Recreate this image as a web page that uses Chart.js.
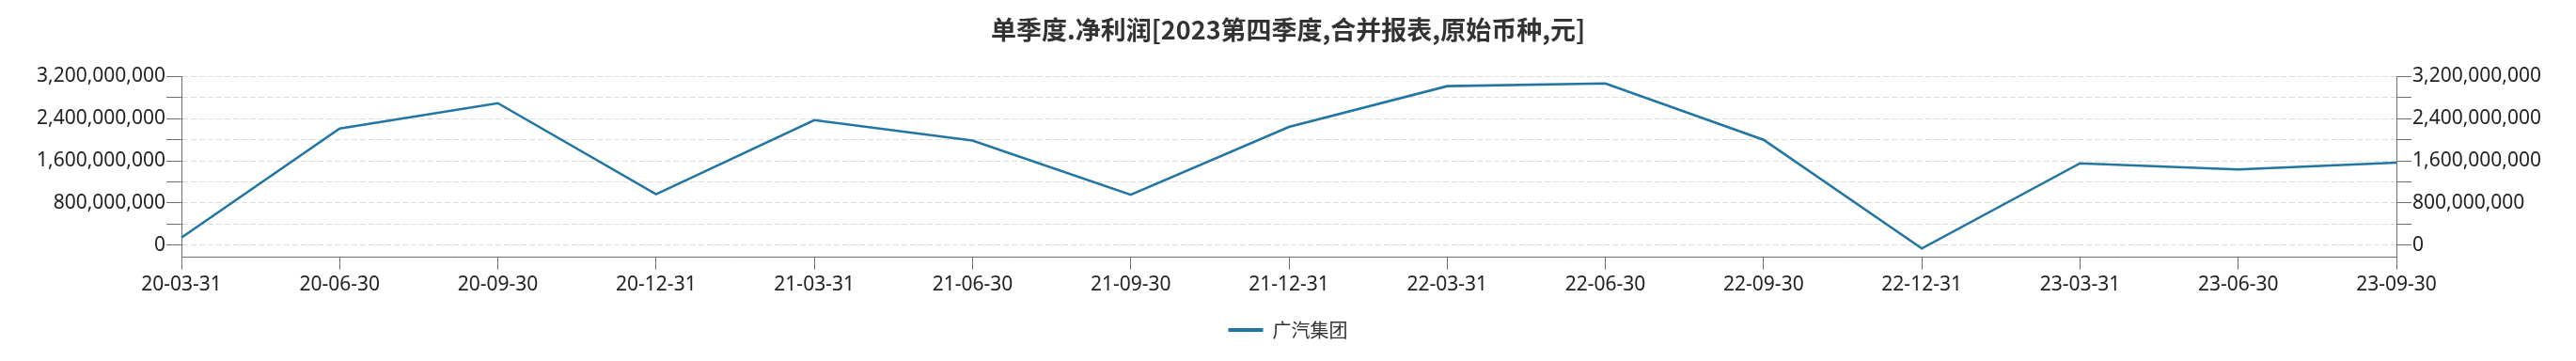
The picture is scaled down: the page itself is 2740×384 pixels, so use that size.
<!DOCTYPE html>
<html>
<head>
<meta charset="utf-8">
<script src="https://cdn.jsdelivr.net/npm/chart.js@4.4.0/dist/chart.umd.min.js"></script>
<style>
  html, body { margin: 0; padding: 0; background: #fff; }
  canvas { display: block; }
</style>
</head>
<body>
<canvas id="chart" width="2740" height="384"></canvas>
<script>
// quarters on the x axis
const quarters = ['20-03-31', '20-06-30', '20-09-30', '20-12-31', '21-03-31', '21-06-30', '21-09-30',
  '21-12-31', '22-03-31', '22-06-30', '22-09-30', '22-12-31', '23-03-31', '23-06-30', '23-09-30'];
// 单季度净利润 (元)
const netProfit = [140e6, 2214e6, 2694e6, 965e6, 2373e6, 1986e6, 954e6,
  2244e6, 3017e6, 3070e6, 1998e6, -65e6, 1552e6, 1436e6, 1564e6];
const seriesName = '广汽集团';
const yLabels = [0, 800e6, 1600e6, 2400e6, 3200e6];
const yMin = -235e6, yMax = 3200e6, yStep = 400e6;

const lineColor = '#2376a2';
const axisColor = '#6e7079';
const tickFont = { family: 'Noto Sans', size: 21 };

// one tick every 400M from 0 up to the top, labels only on the 800M ones
function stepTicks(scale) {
  const ticks = [];
  for (let v = 0; v <= yMax; v += yStep) ticks.push({ value: v });
  scale.ticks = ticks;
}
function fmt(v) {
  return yLabels.includes(v) ? v.toLocaleString('en-US') : '';
}

new Chart(document.getElementById('chart'), {
  type: 'line',
  data: {
    labels: quarters,
    datasets: [{
      label: seriesName,
      data: netProfit,
      borderColor: lineColor,
      backgroundColor: lineColor,
      borderWidth: 2.6,
      pointRadius: 0,
      tension: 0
    }]
  },
  options: {
    responsive: false,
    animation: false,
    layout: { padding: { left: 0, right: 0, top: 0, bottom: 13 } },
    scales: {
      x: {
        offset: false,
        afterFit: s => { s.height += 11; },
        grid: { drawOnChartArea: false, color: axisColor, tickLength: 13 },
        border: { color: axisColor },
        ticks: { color: '#222', font: tickFont, padding: 4, maxRotation: 0, autoSkip: false }
      },
      y: {
        position: 'left',
        min: yMin, max: yMax,
        afterFit: s => { s.width = 193; },
        afterBuildTicks: stepTicks,
        grid: { color: '#dddddd', tickColor: axisColor, tickLength: 16, tickBorderDash: [] },
        border: { color: axisColor, dash: [6, 3] },
        ticks: { color: '#222', font: tickFont, padding: 1, autoSkip: false, callback: fmt }
      },
      y2: {
        position: 'right',
        min: yMin, max: yMax,
        afterFit: s => { s.width = 191; },
        afterBuildTicks: stepTicks,
        grid: { drawOnChartArea: false, tickColor: axisColor, tickLength: 16 },
        border: { color: axisColor },
        ticks: { color: '#222', font: tickFont, padding: 1, autoSkip: false, callback: fmt }
      }
    },
    plugins: {
      title: {
        display: true,
        text: '单季度.净利润[2023第四季度,合并报表,原始币种,元]',
        color: '#333',
        font: { family: 'Noto Sans CJK SC', size: 27, weight: 'bold' },
        padding: { top: 16, bottom: 33 }
      },
      legend: {
        position: 'bottom',
        labels: {
          boxWidth: 37,
          boxHeight: 4,
          color: '#333',
          font: { family: 'Noto Sans CJK SC', size: 20 },
          generateLabels: chart => Chart.defaults.plugins.legend.labels.generateLabels(chart)
            .map(l => Object.assign(l, { lineWidth: 0, fillStyle: lineColor }))
        }
      },
      tooltip: { enabled: false }
    }
  }
});
</script>
</body>
</html>
